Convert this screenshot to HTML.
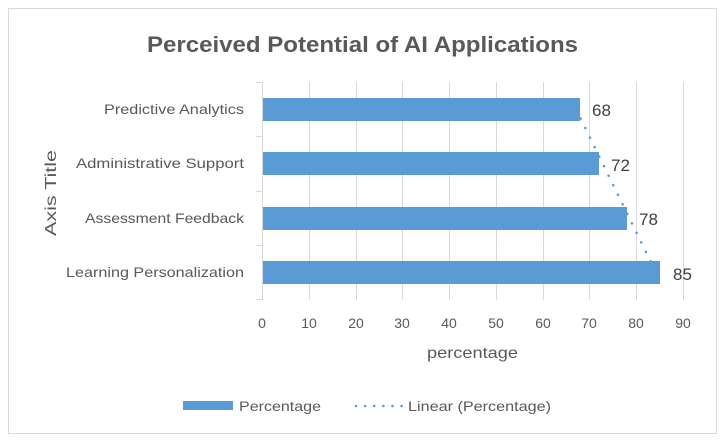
<!DOCTYPE html>
<html><head><style>
body{margin:0;background:#fff;}
svg{display:block;font-family:"Liberation Sans",Calibri,sans-serif;}
</style></head><body>
<svg width="725" height="442" viewBox="0 0 725 442">
<rect x="0" y="0" width="725" height="442" fill="#fff"/>
<rect x="8.5" y="8.5" width="708" height="425" fill="#fff" stroke="#d9d9d9"/>
<text x="147" y="52" textLength="431" lengthAdjust="spacingAndGlyphs" font-size="22" font-weight="bold" fill="#595959">Perceived Potential of AI Applications</text>
<g stroke="#d9d9d9" stroke-width="1">
<line x1="309.5" y1="82" x2="309.5" y2="300"/>
<line x1="356.5" y1="82" x2="356.5" y2="300"/>
<line x1="402.5" y1="82" x2="402.5" y2="300"/>
<line x1="449.5" y1="82" x2="449.5" y2="300"/>
<line x1="496.5" y1="82" x2="496.5" y2="300"/>
<line x1="543.5" y1="82" x2="543.5" y2="300"/>
<line x1="589.5" y1="82" x2="589.5" y2="300"/>
<line x1="636.5" y1="82" x2="636.5" y2="300"/>
<line x1="683.5" y1="82" x2="683.5" y2="300"/>
<line x1="262.5" y1="82" x2="262.5" y2="300"/>
<line x1="256" y1="82.5" x2="262" y2="82.5"/>
<line x1="256" y1="136.5" x2="262" y2="136.5"/>
<line x1="256" y1="191.5" x2="262" y2="191.5"/>
<line x1="256" y1="245.5" x2="262" y2="245.5"/>
<line x1="256" y1="299.5" x2="262" y2="299.5"/>
</g>
<line x1="576" y1="109" x2="656" y2="272.5" stroke="#5b9bd5" stroke-width="2.5" stroke-dasharray="0.1 10.5" stroke-linecap="round"/>
<g fill="#5b9bd5">
<rect x="263" y="98" width="317" height="23"/>
<rect x="263" y="152" width="336" height="23"/>
<rect x="263" y="207" width="364" height="23"/>
<rect x="263" y="261" width="397" height="23"/>
</g>
<g font-size="17" fill="#404040">
<text x="592" y="116">68</text>
<text x="611" y="171">72</text>
<text x="639" y="225">78</text>
<text x="673" y="280">85</text>
</g>
<g font-size="14" fill="#595959">
<text x="104" y="114" textLength="140" lengthAdjust="spacingAndGlyphs">Predictive Analytics</text>
<text x="76" y="168" textLength="168" lengthAdjust="spacingAndGlyphs">Administrative Support</text>
<text x="85" y="223" textLength="159" lengthAdjust="spacingAndGlyphs">Assessment Feedback</text>
<text x="66" y="277" textLength="178" lengthAdjust="spacingAndGlyphs">Learning Personalization</text>
</g>
<g font-size="14" fill="#595959" text-anchor="middle">
<text x="262" y="328">0</text><text x="309" y="328">10</text><text x="356" y="328">20</text>
<text x="402" y="328">30</text><text x="449" y="328">40</text><text x="496" y="328">50</text>
<text x="543" y="328">60</text><text x="589" y="328">70</text><text x="636" y="328">80</text>
<text x="683" y="328">90</text>
</g>
<text x="427" y="358" textLength="91" lengthAdjust="spacingAndGlyphs" font-size="16" fill="#595959">percentage</text>
<text transform="translate(56,236) rotate(-90)" textLength="86" lengthAdjust="spacingAndGlyphs" font-size="16" fill="#595959">Axis Title</text>
<rect x="183" y="401" width="50" height="9" fill="#5b9bd5"/>
<text x="239" y="411" textLength="82" lengthAdjust="spacingAndGlyphs" font-size="14" fill="#595959">Percentage</text>
<line x1="356" y1="406" x2="402" y2="406" stroke="#5b9bd5" stroke-width="2.5" stroke-dasharray="0.1 9" stroke-linecap="round"/>
<text x="408" y="411" textLength="143" lengthAdjust="spacingAndGlyphs" font-size="14" fill="#595959">Linear (Percentage)</text>
</svg>
</body></html>
